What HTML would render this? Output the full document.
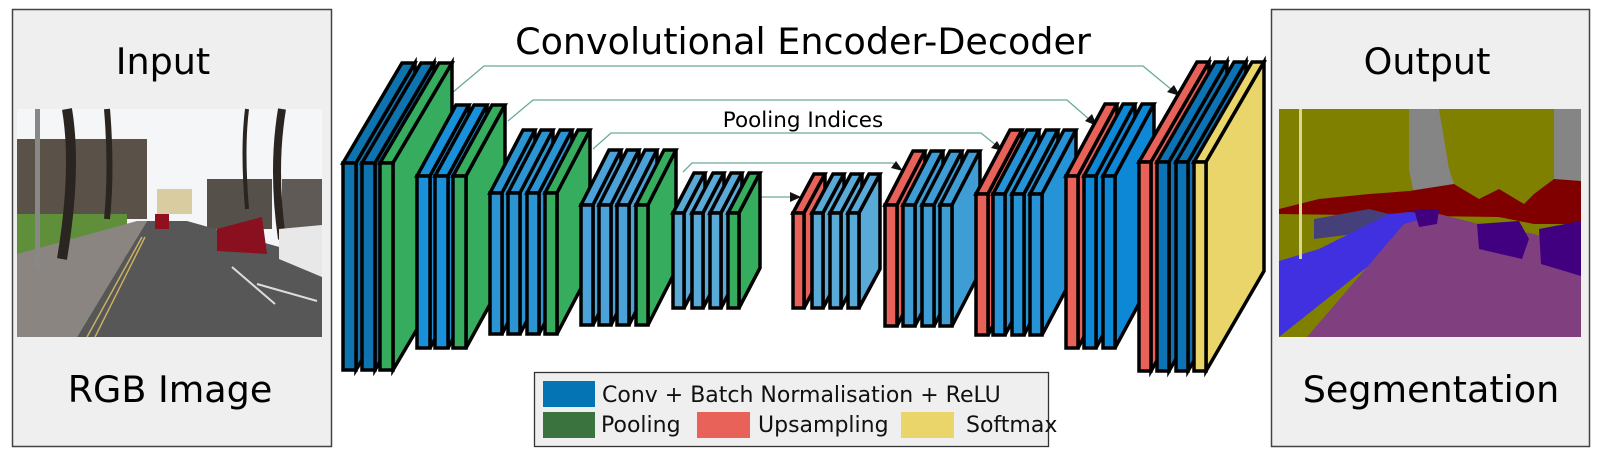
<!DOCTYPE html>
<html><head><meta charset="utf-8">
<style>
html,body{margin:0;padding:0;background:#fff;}
body{width:1605px;height:464px;overflow:hidden;position:relative;font-family:"DejaVu Sans","Liberation Sans",sans-serif;}
svg{position:absolute;left:0;top:0;}
</style></head><body>
<svg id="s" width="1605" height="464" viewBox="0 0 1605 464" xmlns="http://www.w3.org/2000/svg" font-family="DejaVu Sans, Liberation Sans, sans-serif">
<rect x="12.5" y="9.5" width="319" height="437" fill="#efefef" stroke="#444" stroke-width="1.5"/>
<text x="163" y="74" font-size="36.5" text-anchor="middle" fill="#000">Input</text>
<text x="170" y="402" font-size="36.5" text-anchor="middle" fill="#000">RGB Image</text>
<g transform="translate(17,109)">
  <rect width="305" height="228" fill="#f4f6f8"/>
  <rect x="0" y="30" width="130" height="80" fill="#5a5248"/>
  <rect x="265" y="70" width="40" height="50" fill="#5f5a55"/>
  <rect x="190" y="70" width="65" height="50" fill="#55504a"/>
  <rect x="140" y="80" width="35" height="25" fill="#d8cca0"/>
  <rect x="0" y="105" width="110" height="45" fill="#5f8f3a"/>
  <polygon points="0,145 120,112 130,112 60,228 0,228" fill="#8a8580"/>
  <polygon points="60,228 130,112 170,112 305,150 305,228" fill="#575757"/>
  <path d="M50,0 Q60,60 45,150" stroke="#2a2520" stroke-width="10" fill="none"/>
  <path d="M90,0 Q95,60 90,110" stroke="#2a2520" stroke-width="6" fill="none"/>
  <path d="M265,0 Q255,60 265,130" stroke="#2a2520" stroke-width="8" fill="none"/>
  <path d="M230,0 Q225,40 230,100" stroke="#2a2520" stroke-width="4" fill="none"/>
  <rect x="18" y="0" width="5" height="160" fill="#888"/>
  <polygon points="200,120 245,108 250,145 200,142" fill="#8a1020"/>
  <polygon points="262,120 305,116 305,168 262,150" fill="#e8e8e8"/>
  <rect x="138" y="105" width="14" height="15" fill="#901020"/>
  <path d="M70,228 L125,128 M78,228 L128,128" stroke="#c8b060" stroke-width="1.5"/>
  <path d="M215,158 L258,195 M240,175 L300,192" stroke="#ddd" stroke-width="2"/>
</g>
<rect x="1271.5" y="9.5" width="318" height="437" fill="#efefef" stroke="#444" stroke-width="1.5"/>
<text x="1427" y="74" font-size="36.5" text-anchor="middle" fill="#000">Output</text>
<text x="1431" y="402" font-size="36.5" text-anchor="middle" fill="#000">Segmentation</text>
<g transform="translate(1279,109)">
  <rect width="302" height="228" fill="#808000"/>
  <polygon points="130,0 160,0 170,60 175,75 135,85 130,60" fill="#858585"/>
  <polygon points="275,0 302,0 302,72 275,70" fill="#858585"/>
  <polygon points="0,100 40,90 90,85 130,82 175,75 200,90 220,80 245,95 255,85 275,70 302,72 302,115 255,115 220,108 0,105" fill="#800000"/>
  <polygon points="35,110 90,100 110,105 75,125 35,130" fill="#45407a"/>
  <polygon points="0,152 40,140 110,105 130,103 155,105 0,228" fill="#4030e0"/>
  <polygon points="28,228 125,115 160,105 200,115 255,125 302,140 302,228" fill="#804080"/>
  <polygon points="135,100 160,100 158,115 140,118" fill="#400080"/>
  <polygon points="198,115 240,112 250,130 243,150 200,140" fill="#400080"/>
  <polygon points="260,120 302,112 302,167 262,155" fill="#400080"/>
  <rect x="20" y="0" width="3" height="150" fill="#d8d890"/>
</g>
<text x="803" y="54" font-size="36.5" text-anchor="middle" fill="#000">Convolutional Encoder-Decoder</text>
<text x="803" y="127" font-size="21.5" text-anchor="middle" fill="#000">Pooling Indices</text>
<g stroke="#6aaa98" stroke-width="1.3" fill="none">
  <polyline points="452,93 484,66 1143,66 1172,90"/>
  <polyline points="508,121 533,100 1067,100 1090,120"/>
  <polyline points="593,149 611,133 981,133 997,146"/>
  <polyline points="683,172 692,163 893,163 897,166"/>
  <polyline points="760,197 793,197"/>
</g>
<g fill="#111">
  <polygon points="1180,96 1167,92 1174,85"/>
  <polygon points="1097,126 1085,121 1092,114"/>
  <polygon points="1003,151 991,148 997,141"/>
  <polygon points="903,171 891,168 896,161"/>
  <polygon points="801,197 790,192 790,202"/>
</g>
<g id="net"></g>
<rect x="534.5" y="372.5" width="514" height="74" fill="#efefef" stroke="#333" stroke-width="1.3"/>
<rect x="543" y="381" width="52" height="26" fill="#0474b4"/>
<rect x="543" y="412" width="52" height="26" fill="#3a733e"/>
<rect x="697" y="412" width="53" height="26" fill="#e8625a"/>
<rect x="901" y="412" width="53" height="26" fill="#e9d56a"/>
<text x="602" y="402" font-size="22" fill="#111">Conv + Batch Normalisation + ReLU</text>
<text x="601" y="432" font-size="22" fill="#111">Pooling</text>
<text x="758" y="432" font-size="22" fill="#111">Upsampling</text>
<text x="966" y="432" font-size="22" fill="#111">Softmax</text>
</svg>
<script>
var G='#36ad5e',R='#e8625a',Y='#e9d56a';
var blocks=[
 {xs:[343,362,380],c:['#0e74b0','#0e74b0',G],t:163,b:370,dx:59,dy:-100,w:13},
 {xs:[417,435,453],c:['#1890da','#1890da',G],t:176,b:348,dx:39,dy:-71,w:13},
 {xs:[490,508,527,545],c:['#2a95d2','#2a95d2','#2a95d2',G],t:193,b:334,dx:33,dy:-63,w:12},
 {xs:[581,599,617,636],c:['#4aa2d8','#4aa2d8','#4aa2d8',G],t:205,b:325,dx:28,dy:-55,w:12},
 {xs:[673,692,710,728],c:['#5aaad8','#5aaad8','#5aaad8',G],t:213,b:308,dx:21,dy:-40,w:11},
 {xs:[793,812,830,848],c:[R,'#5aaad8','#5aaad8','#5aaad8'],t:213,b:308,dx:21,dy:-39,w:11},
 {xs:[885,903,922,940],c:[R,'#3d9dd4','#3d9dd4','#3d9dd4'],t:205,b:326,dx:28,dy:-54,w:12},
 {xs:[976,993,1012,1030],c:[R,'#2593d6','#2593d6','#2593d6'],t:194,b:335,dx:34,dy:-64,w:12},
 {xs:[1066,1084,1103],c:[R,'#0d88d6','#0d88d6'],t:176,b:348,dx:39,dy:-72,w:12},
 {xs:[1139,1157,1176,1194],c:[R,'#0c74b4','#0c74b4',Y],t:162,b:371,dx:58,dy:-100,w:12}
];
var h='';
blocks.forEach(function(B){
 B.xs.forEach(function(x,i){
  var w=B.w,t=B.t,b=B.b,dx=B.dx,dy=B.dy,c=B.c[i];
  var st=' fill="'+c+'" stroke="#000" stroke-width="3.5" stroke-linejoin="miter"';
  h+='<polygon points="'+x+','+t+' '+(x+dx)+','+(t+dy)+' '+(x+w+dx)+','+(t+dy)+' '+(x+w)+','+t+'"'+st+'/>';
  h+='<polygon points="'+(x+w)+','+t+' '+(x+w+dx)+','+(t+dy)+' '+(x+w+dx)+','+(b+dy)+' '+(x+w)+','+b+'"'+st+'/>';
  h+='<rect x="'+x+'" y="'+t+'" width="'+w+'" height="'+(b-t)+'"'+st+'/>';
 });
});
document.getElementById('net').innerHTML=h;
</script>
</body></html>
